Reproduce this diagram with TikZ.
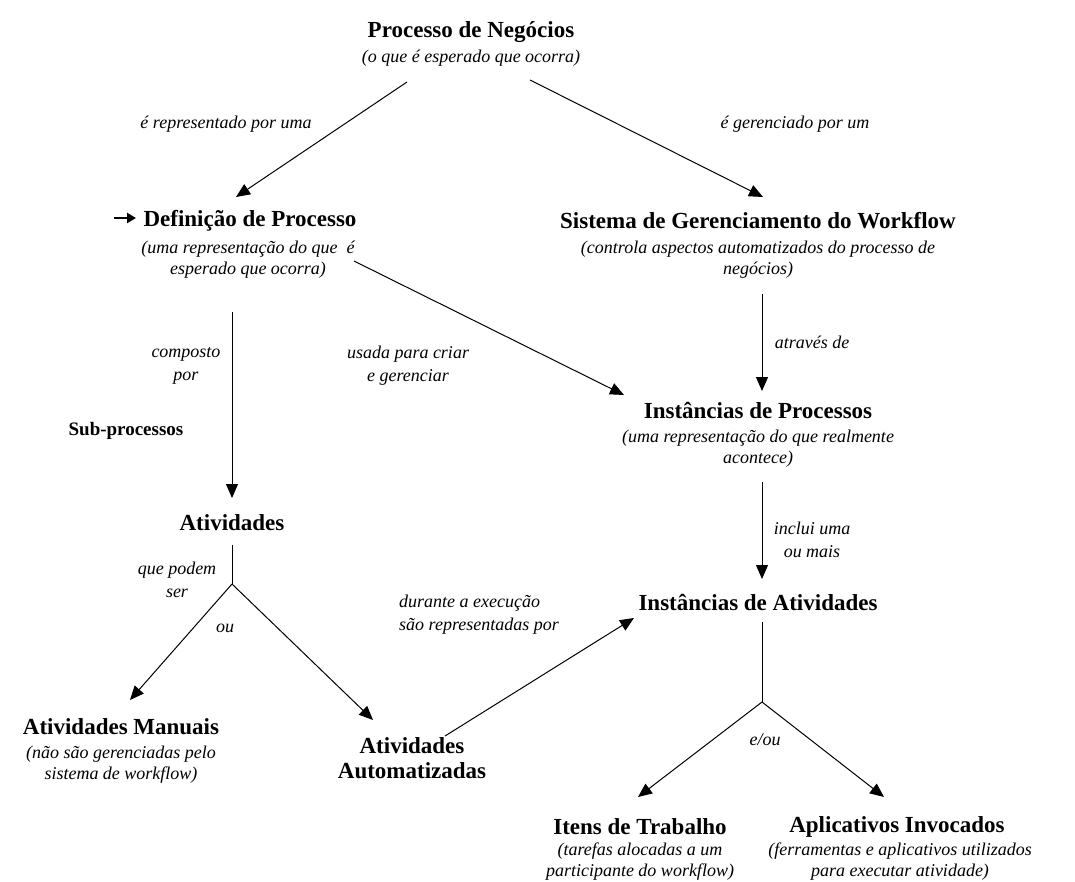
\documentclass[tikz,border=0pt]{standalone}
\usepackage{fontspec}
\setmainfont{Liberation Serif}
\usetikzlibrary{arrows.meta}
\begin{document}
\begin{tikzpicture}[x=1pt,y=-1pt,
  title/.style={font=\fontsize{23}{25}\selectfont\bfseries, inner sep=0pt, align=center},
  minor/.style={font=\fontsize{19}{21}\selectfont\bfseries, inner sep=0pt},
  sub/.style={font=\fontsize{18}{21}\selectfont\itshape, inner sep=0pt, align=center},
  lbl/.style={font=\fontsize{18}{23}\selectfont\itshape, inner sep=0pt, align=center},
  link/.style={line width=1pt, -{Triangle[length=14pt,width=12pt]}},
  stem/.style={line width=1pt}]
\useasboundingbox[fill=white] (0,0) rectangle (1075,881);

% concepts
\node[title] (pn) at (471,32) {Processo de Negócios};
\node[sub] (pn-sub) at (471,58) {(o que é esperado que ocorra)};

\node[title] (dp) at (250,221) {Definição de Processo};
\node[sub] (dp-sub) at (248,260) {(uma representação do que \ é\\esperado que ocorra)};

\node[title] (sgw) at (758,221) {Sistema de Gerenciamento do Workflow};
\node[sub] (sgw-sub) at (758,260) {(controla aspectos automatizados do processo de\\negócios)};

\node[title] (ip) at (758,410) {Instâncias de Processos};
\node[sub] (ip-sub) at (758,449) {(uma representação do que realmente\\acontece)};

\node[title] (ia) at (758,602) {Instâncias de Atividades};

\node[title] (at) at (232,523) {Atividades};
\node[minor] (sp) at (126,431) {Sub-processos};

\node[title] (am) at (121,727) {Atividades Manuais};
\node[sub] (am-sub) at (121,765) {(não são gerenciadas pelo\\sistema de workflow)};

\node[title] (aa) at (412,758) {Atividades\\Automatizadas};

\node[title] (it) at (640,827) {Itens de Trabalho};
\node[sub] (it-sub) at (640,862) {(tarefas alocadas a um\\participante do workflow)};

\node[title] (ai) at (897,827) {Aplicativos Invocados};
\node[sub] (ai-sub) at (900,862) {(ferramentas e aplicativos utilizados\\para executar atividade)};

% connector end points
\coordinate (pn-l) at (407,82);
\coordinate (pn-r) at (530,80);
\coordinate (dp-in) at (236,197);
\coordinate (sgw-in) at (763,197);
\coordinate (mk-s) at (114,218);
\coordinate (mk-e) at (136,218);
\coordinate (dp-down) at (232,312);
\coordinate (at-in) at (232,498);
\coordinate (dp-out) at (354,261);
\coordinate (ip-in) at (624,395);
\coordinate (sgw-down) at (762,294);
\coordinate (ip-top) at (762,391);
\coordinate (ip-down) at (762,482);
\coordinate (ia-top) at (762,579);
\coordinate (at-down) at (232,545);
\coordinate (at-j) at (232,584);
\coordinate (am-in) at (130,700);
\coordinate (aa-in) at (373,720);
\coordinate (aa-out) at (445,736);
\coordinate (ia-in) at (634,618);
\coordinate (ia-down) at (762,622);
\coordinate (ia-j) at (762,702);
\coordinate (it-in) at (638,797);
\coordinate (ai-in) at (884,797);

% connectors
\draw[link] (pn-l) -- (dp-in);
\draw[link] (pn-r) -- (sgw-in);
\draw[line width=2.2pt, -{Triangle[length=9pt,width=10pt]}] (mk-s) -- (mk-e);
\draw[link] (dp-down) -- (at-in);
\draw[link] (dp-out) -- (ip-in);
\draw[link] (sgw-down) -- (ip-top);
\draw[link] (ip-down) -- (ia-top);
\draw[stem] (at-down) -- (at-j);
\draw[link] (at-j) -- (am-in);
\draw[link] (at-j) -- (aa-in);
\draw[link] (aa-out) -- (ia-in);
\draw[stem] (ia-down) -- (ia-j);
\draw[link] (ia-j) -- (it-in);
\draw[link] (ia-j) -- (ai-in);

% connector labels
\node[lbl] (l-rep) at (226,124) {é representado por uma};
\node[lbl] (l-ger) at (795,124) {é gerenciado por um};
\node[lbl] (l-comp) at (186,366) {composto\\por};
\node[lbl] (l-usada) at (408,366) {usada para criar\\e gerenciar};
\node[lbl] (l-atr) at (812,342) {através de};
\node[lbl] (l-incl) at (812,540) {inclui uma\\ou mais};
\node[lbl] (l-que) at (177,580) {que podem\\ser};
\node[lbl] (l-ou) at (225,628) {ou};
\node[lbl, align=left, anchor=west] (l-dur) at (399,615) {durante a execução\\são representadas por};
\node[lbl] (l-eou) at (765,740) {e/ou};
\end{tikzpicture}
\end{document}
